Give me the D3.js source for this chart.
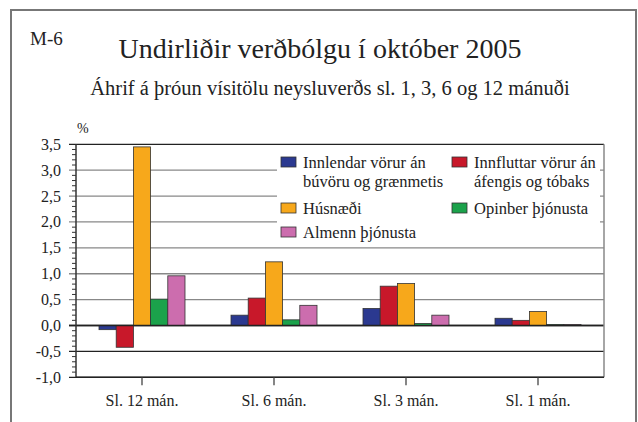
<!DOCTYPE html>
<html><head><meta charset="utf-8">
<script src="https://cdn.jsdelivr.net/npm/d3@7"></script>
<style>body{margin:0;background:#fff}svg{display:block}text{font-family:"Liberation Serif","Times New Roman",serif;fill:#222}</style>
</head><body><svg id="c" width="638" height="422"></svg>
<script>
const categories = ["Sl. 12 mán.", "Sl. 6 mán.", "Sl. 3 mán.", "Sl. 1 mán."];
const seriesNames = ["Innlendar vörur án búvöru og grænmetis", "Innfluttar vörur án áfengis og tóbaks", "Húsnæði", "Opinber þjónusta", "Almenn þjónusta"];
const innlendar = [-0.08, 0.20, 0.33, 0.14];
const innfluttar = [-0.42, 0.53, 0.76, 0.10];
const husnaedi = [3.45, 1.23, 0.81, 0.27];
const opinber = [0.51, 0.11, 0.04, 0.02];
const almenn = [0.96, 0.39, 0.20, 0.02];
const yTicks = [-1.0, -0.5, 0.0, 0.5, 1.0, 1.5, 2.0, 2.5, 3.0, 3.5];
const colors = ["#2B3990", "#C8182A", "#F7A81B", "#1BA24B", "#CC6DAE"];
const values = [innlendar, innfluttar, husnaedi, opinber, almenn];

const svg = d3.select("#c");
// outer frame
svg.append("rect").attr("x", 11).attr("y", 10).attr("width", 625).attr("height", 430)
  .attr("fill", "none").attr("stroke", "#777").attr("stroke-width", 2);

svg.append("text").attr("x", 30).attr("y", 45).attr("font-size", 19).text("M-6");
svg.append("text").attr("x", 320).attr("y", 58).attr("text-anchor", "middle").attr("font-size", 28).text("Undirliðir verðbólgu í október 2005");
svg.append("text").attr("x", 330).attr("y", 95).attr("text-anchor", "middle").attr("font-size", 20.5).text("Áhrif á þróun vísitölu neysluverðs sl. 1, 3, 6 og 12 mánuði");

const L = 76, R = 604, T = 144.3, B = 377.3;
const y = d3.scaleLinear().domain([-1, 3.5]).range([B, T]);
const x0 = d3.scaleBand().domain(categories).range([L, R]).padding(0);
const groupW = 86;
const x1 = d3.scaleBand().domain(d3.range(5)).range([0, groupW]).padding(0);
const off = (x0.bandwidth() - groupW) / 2;

// gridlines
yTicks.forEach(t => {
  const dark = t <= 0 || t === 3.5;
  svg.append("line").attr("x1", L - 7).attr("x2", R).attr("y1", y(t)).attr("y2", y(t))
    .attr("stroke", dark ? "#222" : "#888").attr("stroke-width", 1.3);
});
// minor ticks
d3.range(-10, 36).forEach(i => {
  if (i % 5 === 0) return;
  const v = i / 10;
  svg.append("line").attr("x1", L - 4).attr("x2", L).attr("y1", y(v)).attr("y2", y(v))
    .attr("stroke", "#333").attr("stroke-width", 1);
});
// y tick labels
yTicks.forEach(t => {
  svg.append("text").attr("x", 61).attr("y", y(t) + 5.5).attr("text-anchor", "end").attr("font-size", 16)
    .text(d3.format(".1f")(t).replace(".", ",").replace("−", "-"));
});
svg.append("text").attr("x", 77).attr("y", 133).attr("font-size", 14).text("%");

// legend background
svg.append("rect").attr("x", 277).attr("y", 147).attr("width", 323).attr("height", 98).attr("fill", "#fff");

// bars
categories.forEach((c, ci) => {
  values.forEach((arr, si) => {
    const v = arr[ci];
    svg.append("rect")
      .attr("x", x0(c) + off + x1(si))
      .attr("width", x1.bandwidth())
      .attr("y", y(Math.max(0, v)))
      .attr("height", Math.abs(y(v) - y(0)))
      .attr("fill", colors[si]).attr("stroke", "#333").attr("stroke-width", 0.8);
  });
});
// zero line on top
svg.append("line").attr("x1", L - 7).attr("x2", R).attr("y1", y(0)).attr("y2", y(0)).attr("stroke", "#222").attr("stroke-width", 1.3);

// axes
svg.append("line").attr("x1", L).attr("x2", L).attr("y1", T).attr("y2", B).attr("stroke", "#333").attr("stroke-width", 1.5);
svg.append("line").attr("x1", R).attr("x2", R).attr("y1", T).attr("y2", B).attr("stroke", "#888").attr("stroke-width", 1.5);
svg.append("line").attr("x1", L).attr("x2", R).attr("y1", B).attr("y2", B).attr("stroke", "#222").attr("stroke-width", 1.5);
categories.forEach(c => {
  const cx = x0(c) + x0.bandwidth() / 2;
  svg.append("line").attr("x1", cx).attr("x2", cx).attr("y1", B).attr("y2", B + 8).attr("stroke", "#444").attr("stroke-width", 1.3);
  svg.append("text").attr("x", cx).attr("y", 406).attr("text-anchor", "middle").attr("font-size", 16).text(c);
});

// legend
const legendItems = [
  {i: 0, x: 281, y: 157, lines: ["Innlendar vörur án", "búvöru og grænmetis"]},
  {i: 1, x: 452, y: 157, lines: ["Innfluttar vörur án", "áfengis og tóbaks"]},
  {i: 2, x: 281, y: 203, lines: ["Húsnæði"]},
  {i: 3, x: 452, y: 203, lines: ["Opinber þjónusta"]},
  {i: 4, x: 281, y: 227, lines: ["Almenn þjónusta"]}
];
legendItems.forEach(d => {
  svg.append("rect").attr("x", d.x).attr("y", d.y).attr("width", 15).attr("height", 10)
    .attr("fill", colors[d.i]).attr("stroke", "#333").attr("stroke-width", 0.8);
  d.lines.forEach((ln, k) => {
    svg.append("text").attr("x", d.x + 22).attr("y", d.y + 10.5 + k * 19).attr("font-size", 16.5).text(ln);
  });
});
</script></body></html>
